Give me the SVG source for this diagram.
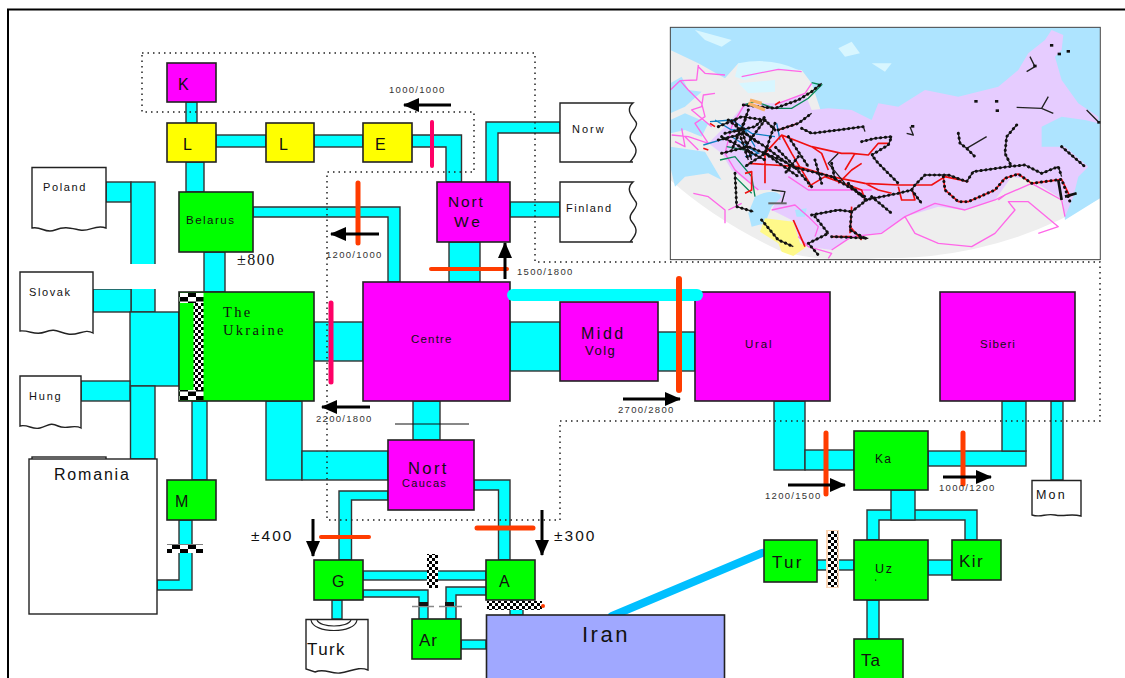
<svg xmlns="http://www.w3.org/2000/svg" width="1125" height="678" viewBox="0 0 1125 678">
<defs>
<style>
text{font-family:"Liberation Sans",Arial,sans-serif;fill:#111}
.n{stroke:#222;stroke-width:1.6}
.mg{fill:#ff00ff}.gr{fill:#00ff00}.ye{fill:#ffff00}.wh{fill:#fff}
.p{fill:#00ffff;stroke:#333;stroke-width:1.4}
.r{stroke:#ff3c00;stroke-linecap:round;fill:none}
.k{stroke:#ff0066;stroke-linecap:round;fill:none}
.a{stroke:#000;stroke-width:3;fill:none;marker-end:url(#ah)}
.v{font-size:9.5px;letter-spacing:1.300px;fill:#333}
.dot{fill:none;stroke:#222;stroke-width:1.5;stroke-dasharray:1.5 4}
.doc{fill:#fff;stroke:#222;stroke-width:1.4}
.se{font-family:"Liberation Serif","Times New Roman",serif}
.mb{fill:none;stroke:#ff66e8;stroke-width:4;stroke-linejoin:round}
.ml{fill:none;stroke:#222;stroke-width:4;stroke-linejoin:round}
.md{fill:none;stroke:#111;stroke-width:9;stroke-linecap:round;stroke-dasharray:.5 14}
.mr{fill:none;stroke:#f01010;stroke-width:5;stroke-linejoin:round}
.mt{fill:none;stroke:#0a8a5a;stroke-width:4}
.mu{fill:none;stroke:#1080c0;stroke-width:4}
</style>
<marker id="ah" markerUnits="userSpaceOnUse" markerWidth="16" markerHeight="14" refX="15" refY="7" orient="auto"><path d="M0 0L16 7L0 14Z" fill="#000"/></marker>
<pattern id="c" width="6" height="6" patternUnits="userSpaceOnUse"><rect width="6" height="6" fill="#fff"/><rect width="3" height="3" fill="#000"/><rect x="3" y="3" width="3" height="3" fill="#000"/></pattern>
<pattern id="cb" width="16" height="9" patternUnits="userSpaceOnUse"><rect width="16" height="9" fill="#fff"/><rect x="4" width="8" height="4.500" fill="#000"/><rect x="12" y="4.500" width="8" height="4.500" fill="#000"/><rect x="-4" y="4.500" width="8" height="4.500" fill="#000"/></pattern>
</defs>
<rect width="1125" height="678" fill="#fff"/>
<path d="M8 678V9.500H1125" fill="none" stroke="#000" stroke-width="2"/>

<g id="map">
<rect x="670.500" y="27.500" width="430" height="232" fill="#fff"/>
<g transform="translate(665 20) scale(.3333)">
<path d="M16 480Q150 600 340 690Q460 730 640 715Q1000 720 1305 535V22H16Z" fill="#eee"/>
<path d="M16 22H1305V535L1200 600L1190 480L1000 440L600 400L470 280L440 190L410 150L310 145L220 130L180 175L100 130L16 90Z" fill="#aee4ff"/>
<path d="M220 130Q320 110 400 150L320 150L240 180L210 170ZM520 85L560 65L585 100L540 110ZM620 130L680 130L660 155ZM90 30L200 60L170 80L120 60ZM220 190L330 180L330 215L250 220Z" fill="#d8f6ff"/>
<path d="M16 190L50 170L70 210L110 215L60 260L16 280ZM16 300L60 280L130 310L110 350L60 330L16 340ZM16 380L120 395L170 480L130 460L60 470L30 500L16 440Z" fill="#aee4ff"/>
<path d="M440 270L490 265L560 270L620 300L640 250L700 260L780 210L880 230L1000 200L1060 150L1090 100L1140 60L1160 30L1195 45L1190 90L1170 110L1190 180L1240 250L1300 290L1300 310L1260 300L1190 290L1130 320L1130 380L1200 380L1270 440L1240 470L1225 530L1200 590L1195 540L1100 480L1040 470L990 540L900 570L820 560L720 590L650 640L560 650L500 690L430 680L400 650L380 600L320 570L350 510L280 510L200 450L170 400L130 370L190 310L240 250L340 250L420 220Z" fill="#e6ccff"/>
<path d="M270 530Q330 500 350 530L320 560L300 610L260 620L250 580Z" fill="#aee4ff"/>
<path d="M390 570L425 565L420 590L395 590Z" fill="#aee4ff"/>
<path d="M300 595L385 605L405 670L425 680L385 708L350 695L340 670L285 635Z" fill="#fff98a"/>
<path class="mb" d="M100 135L95 180L45 182L70 210L110 250L120 290L90 310L130 370L70 350L20 345M100 140L120 160L180 165M150 220L115 225L110 260L80 270L140 320M410 155L340 148L230 170M340 250L420 220L440 190M45 182L16 210M50 325L60 380L30 365M60 350L100 390"/>
<path class="mb" d="M85 520L130 530L180 570L180 610M190 570L230 550M320 570L390 555L430 590L460 620L450 650M400 650L430 680L500 700L490 715M500 690L560 650L650 640L720 590L750 640L820 670L920 680L990 640L1050 570L1030 545L1090 545L1180 620L1120 640M720 590L810 550L900 570L990 540L1020 525L1100 490L1190 540L1200 590"/>
<path class="mb" d="M370 470L430 510L560 510L620 510M1000 540L1020 525M240 250L200 320L180 400L210 450L280 510"/>
<path class="mt" d="M235 255L270 245L330 265L380 265L430 235L470 195L440 188M165 420L210 410L260 470L270 530M210 470L260 520M185 380L240 390"/>
<path class="mu" d="M135 305L200 300L260 340L330 350M115 375L200 350L280 400L240 410M335 310L345 360M150 300L200 330L240 330L270 380"/>
<path class="mr" d="M135 310L150 320M115 385L130 390M330 255L345 245M300 400L350 345L440 380L530 400L560 400L610 405L640 370L670 370M300 400L300 490M240 460L260 455L260 510L240 520M250 430L400 440L500 470L600 490L700 495L800 495L840 470L910 485M540 450L570 400M590 430L560 450L520 490M430 500L480 470L590 510L600 540M700 500L710 540L750 540L740 505M835 470L840 510L880 545L910 545L990 510L1020 475L1060 462L1100 490L1190 478L1215 530M555 640L560 560M555 620L590 660M500 650L560 650M385 600L420 680M350 345L380 400L440 500M600 490L640 510L680 520M340 330L400 310M440 380L470 400L490 450"/>
<path class="ml" d="M235 255L330 265L400 240L440 215L470 190M340 330L400 310L440 280M160 320L230 290L300 300L330 330M160 360L240 340L300 380L380 440L500 470L600 530M170 400L250 380L300 400L370 430M210 460L215 560L265 575M320 510L360 515L350 550M440 500L380 430L330 380M210 300L250 420M180 340L270 320L300 290M410 325L440 340L520 330L595 320L600 335M590 365L630 355L680 350L670 375L620 405L640 430L700 490M600 540L700 520L740 510L750 495L780 465L850 465L905 485L925 455L960 450L1030 440L1080 435L1130 460L1180 440L1190 470M605 540L560 575L555 630L600 655M560 500L605 540M440 585L520 570L560 575M450 590L490 640L430 670L460 705M500 650L610 655M290 600L340 660L385 680M880 340L885 370L905 385L930 410M905 385L965 350M1055 315L1025 350L1020 400L1040 440M1055 262L1130 265L1165 280M1130 265L1150 230M1190 380L1260 440M1095 110L1110 140L1085 155M1265 270L1300 305M725 340L745 345L735 320M520 400L490 430L540 490M300 400L400 470M330 310L300 400L240 440M250 270L230 330L260 420M170 350L300 420M190 300L280 370M240 300L200 390M300 300L240 380M370 350L430 440M400 410L360 460M450 420L470 490M500 430L510 480M550 490L590 530M740 510L770 550M620 530L680 580"/>
<path class="md" d="M235 255L330 265L400 240L440 215L470 190M340 330L400 310L440 280M160 320L230 290L300 300L330 330M160 360L240 340L300 380L380 440L500 470L600 530M170 400L250 380L300 400L370 430M210 460L215 560L265 575M440 500L380 430L330 380M210 300L250 420M180 340L270 320L300 290M410 325L440 340L520 330L595 320M590 365L630 355L680 350L670 375L620 405L640 430L700 490M600 540L700 520L740 510L750 495L780 465L850 465L905 485L925 455L960 450L1030 440L1080 435L1130 460L1180 440L1190 470M605 540L560 575L555 630L600 655M560 500L605 540M440 585L520 570L560 575M450 590L490 640L430 670L460 705M500 650L610 655M290 600L340 660L385 680M880 340L885 370L905 385L930 410M1055 315L1025 350L1020 400L1040 440M1190 380L1260 440M835 470L840 510L880 545L910 545L990 510L1020 475L1060 462L1100 490L1190 478L1215 545M300 400L400 470M330 310L300 400L240 440M250 270L230 330L260 420M170 350L300 420M190 300L280 370M240 300L200 390M300 300L240 380M370 350L430 440M400 410L360 460M450 420L470 490M500 430L510 480M550 490L590 530M740 510L770 550M620 530L680 580"/>
<path d="M310 550H365" stroke="#666" stroke-width="6"/>
<path d="M1180 480L1190 540M1200 530L1235 520" stroke="#111" stroke-width="8" fill="none"/>
<path d="M250 250L300 270M255 240L290 250" stroke="#f7b267" stroke-width="10" fill="none"/>
<g fill="#111"><rect x="1155" y="72" width="10" height="8"/><rect x="1178" y="98" width="10" height="8"/><rect x="1205" y="90" width="10" height="8"/><rect x="1105" y="134" width="10" height="8"/><rect x="928" y="240" width="10" height="8"/><rect x="990" y="240" width="10" height="8"/><rect x="992" y="268" width="10" height="8"/><rect x="1297" y="303" width="10" height="8"/><rect x="738" y="315" width="10" height="8"/></g>
<rect x="16" y="22" width="1290" height="697" fill="none" stroke="#444" stroke-width="3"/>
</g>
</g>

<g id="connectors">
<rect class="p" x="186" y="102" width="11" height="21"/>
<rect class="p" x="216" y="135" width="50" height="12"/>
<rect class="p" x="314" y="135" width="49" height="12"/>
<rect class="p" x="186" y="162" width="18" height="30"/>
<path class="p" d="M412 135H461.500V182H446V147H412Z"/>
<path class="p" d="M498 182V133H560V122H486V182Z"/>
<rect class="p" x="510" y="202" width="50" height="15"/>
<rect class="p" x="449" y="242" width="31" height="40"/>
<path class="p" d="M253 207H400V282H388V217H253Z"/>
<rect class="p" x="106" y="182" width="25" height="20"/>
<rect class="p" x="131" y="182" width="24" height="130"/>
<rect class="p" x="93" y="289" width="38" height="23"/>
<rect x="90" y="264" width="95" height="25" fill="#fff"/>
<rect class="p" x="204" y="252" width="21" height="40"/>
<rect class="p" x="130" y="312" width="49" height="74"/>
<rect class="p" x="81" y="381" width="49" height="20"/>
<rect class="p" x="130.500" y="386" width="24.500" height="73"/>
<rect class="p" x="192" y="401" width="15" height="79"/>
<path class="p" d="M179 520H192V590H157V580H179Z"/>
<rect class="p" x="266" y="401" width="36" height="79"/>
<rect class="p" x="302" y="451" width="86" height="29"/>
<rect class="p" x="314" y="322" width="49" height="39"/>
<rect class="p" x="510" y="322" width="50" height="49"/>
<rect class="p" x="658" y="332" width="37" height="39"/>
<rect class="p" x="413" y="401" width="27" height="39"/>
<path class="p" d="M388 491H339V560H351.500V500H388Z"/>
<path class="p" d="M474 480H510V560H498.500V490H474Z"/>
<rect class="p" x="363" y="571" width="123" height="9"/>
<path class="p" d="M363 590H428V619H419V597H363Z"/>
<path class="p" d="M486 587H446V619H456V595H486Z"/>
<rect class="p" x="461" y="640" width="25" height="9"/>
<rect class="p" x="510" y="600" width="13" height="15"/>
<rect class="p" x="332" y="600" width="10" height="19"/>
<rect class="p" x="774" y="401" width="31" height="69"/>
<rect class="p" x="805" y="450" width="49" height="20"/>
<rect class="p" x="928" y="451" width="98" height="15"/>
<rect class="p" x="1002" y="401" width="24" height="50"/>
<rect class="p" x="1051" y="401" width="12" height="79"/>
<path class="p" d="M867 540V510H977V540H965V520H879V540Z"/>
<rect class="p" x="891" y="490" width="24" height="30"/>
<rect class="p" x="817" y="560" width="37" height="10"/>
<rect class="p" x="928" y="560" width="24" height="15"/>
<rect class="p" x="867" y="600" width="12" height="39"/>
<line x1="612" y1="616" x2="762" y2="553" stroke="#00bfff" stroke-width="8" stroke-linecap="round"/>
</g>

<g id="romania"><rect class="doc" x="32" y="457" width="74" height="6"/><rect class="doc" x="29" y="459" width="128" height="155"/><text x="54" y="480" font-size="16" letter-spacing="1.800">Romania</text></g>
<g id="poland"><path class="doc" d="M32 228V167.500H106V228C95 224 90 232 80 230S65 226 55 230S42 226 32 228Z"/><text x="43" y="191" font-size="11" letter-spacing="1.600" fill="#333">Poland</text></g>
<g id="slovak"><path class="doc" d="M20 331V272H93V333C85 328 78 336 68 334S55 328 45 332S30 330 20 331Z"/><text x="29" y="296" font-size="11" letter-spacing="1.600" fill="#333">Slovak</text></g>
<g id="hung"><path class="doc" d="M20 426V376H81V428C74 424 66 430 58 426S48 426 40 428S28 424 20 426Z"/><text x="29" y="400" font-size="11" letter-spacing="1.800" fill="#333">Hung</text></g>
<g id="norw"><path class="doc" d="M633 162H560V103H633C625 110 632 116 636 122S625 134 632 142S636 155 630 162"/><text x="572" y="133" font-size="11" letter-spacing="2" fill="#333">Norw</text></g>
<g id="finland"><path class="doc" d="M633 242H560V182H633C625 189 632 196 636 202S625 214 632 222S636 235 630 242"/><text x="566" y="212" font-size="11" letter-spacing="1.500" fill="#333">Finland</text></g>
<g id="turk"><path class="doc" d="M306 669V619.500H368V670C358 666 350 672 340 673S325 668 315 672Z"/><path d="M311 620C313 634 355 634 357 620M317 620C320 628 348 628 351 620" fill="none" stroke="#222" stroke-width="1.200"/><text x="307" y="655" font-size="17" letter-spacing="1.400">Turk</text></g>
<g id="mon"><path class="doc" d="M1032 515V480.500H1081V516C1070 513 1065 517 1055 515S1042 518 1032 515Z"/><text x="1036" y="499" font-size="12.500" letter-spacing="2.200" fill="#333">Mon</text></g>

<g id="k"><rect class="n mg" x="167" y="63" width="49" height="39"/><text x="178" y="90" font-size="16">K</text></g>
<g id="l1"><rect class="n ye" x="167" y="123" width="49" height="39"/><text x="183" y="150" font-size="16">L</text></g>
<g id="l2"><rect class="n ye" x="266" y="123" width="48" height="39"/><text x="279" y="150" font-size="16">L</text></g>
<g id="e"><rect class="n ye" x="363" y="123" width="49" height="39"/><text x="375" y="150" font-size="16">E</text></g>
<g id="belarus"><rect class="n gr" x="179" y="192" width="74" height="60"/><text x="186" y="224" font-size="11.500" letter-spacing="1.500">Belarus</text></g>
<g id="nortwe"><rect class="n mg" x="437" y="182" width="73" height="60"/><text x="448" y="207" font-size="15.500" letter-spacing="1.800">Nort</text><text x="454" y="227" font-size="15.500" letter-spacing="3">We</text></g>
<g id="ukraine"><rect class="n gr" x="179" y="292" width="135" height="109"/><rect x="179.500" y="293" width="24" height="10" fill="url(#cb)"/><rect x="179.500" y="390" width="24" height="10" fill="url(#cb)"/><rect x="193.500" y="303" width="10" height="87" fill="url(#c)"/><text class="se" x="223" y="317" font-size="14.500" letter-spacing="2.300">The</text><text class="se" x="223" y="335" font-size="14.500" letter-spacing="2.300">Ukraine</text></g>
<g id="m"><rect class="n gr" x="167" y="480" width="49" height="40"/><text x="175" y="507" font-size="16">M</text></g>
<g id="centre"><rect class="n mg" x="363" y="282" width="147" height="119"/><text x="411" y="343" font-size="11.500" letter-spacing="1.200">Centre</text></g>
<g id="middvolg"><rect class="n mg" x="560" y="302" width="98" height="79"/><text x="581" y="339" font-size="16" letter-spacing="2.500">Midd</text><text x="585" y="355" font-size="13" letter-spacing="1.500">Volg</text></g>
<g id="ural"><rect class="n mg" x="695" y="292" width="135" height="109"/><text x="745" y="348" font-size="11.500" letter-spacing="1.800">Ural</text></g>
<g id="siberi"><rect class="n mg" x="940" y="292" width="135" height="109"/><text x="980" y="348" font-size="11.500" letter-spacing="1.100">Siberi</text></g>
<g id="ka"><rect class="n gr" x="854" y="431" width="74" height="59"/><text x="875" y="463" font-size="12" letter-spacing="1.200">Ka</text></g>
<g id="nortcaucas"><rect class="n mg" x="388" y="440" width="86" height="70"/><text x="408" y="474" font-size="16.500" letter-spacing="2.400">Nort</text><text x="402" y="487" font-size="11" letter-spacing="1.300">Caucas</text></g>
<g id="g"><rect class="n gr" x="314" y="560" width="49" height="40"/><text x="332" y="587" font-size="16">G</text></g>
<g id="a"><rect class="n gr" x="486" y="560" width="49" height="40"/><text x="499" y="587" font-size="16">A</text></g>
<g id="ar"><rect class="n gr" x="412" y="619" width="49" height="40"/><text x="419" y="646" font-size="17" letter-spacing="1">Ar</text></g>
<g id="iran"><rect class="n" x="486.500" y="615" width="238" height="70" fill="#a0a8ff"/><text x="582" y="642" font-size="22" letter-spacing="2.500" fill="#222">Iran</text></g>
<g id="tur"><rect class="n gr" x="764" y="540" width="53" height="42"/><text x="772" y="568" font-size="17" letter-spacing="2.300">Tur</text></g>
<g id="uz"><rect class="n gr" x="854" y="540" width="74" height="60"/><text x="875" y="573" font-size="12.500" letter-spacing="1.600">Uz</text><rect x="875" y="579.500" width="1.200" height="1.200" fill="#111"/></g>
<g id="kir"><rect class="n gr" x="952" y="540" width="49" height="40"/><text x="959" y="567" font-size="17" letter-spacing="1.500">Kir</text></g>
<g id="ta"><rect class="n gr" x="854" y="639" width="49" height="45"/><text x="861" y="666" font-size="17" letter-spacing="1">Ta</text></g>

<g id="dotted"><path class="dot" d="M142 53H535V262H1100V421H560V520H327V172H474V112H142Z"/></g>

<g id="breakers">
<line x1="513" y1="295" x2="697" y2="295" stroke="#00ffff" stroke-width="12" stroke-linecap="round"/>
<line class="k" x1="432" y1="122" x2="432" y2="166" stroke-width="4"/>
<line class="r" x1="358" y1="183" x2="358" y2="243" stroke-width="5"/>
<line class="r" x1="431" y1="269" x2="507" y2="269" stroke-width="4"/>
<line class="k" x1="331" y1="303" x2="331" y2="382" stroke-width="5"/>
<line class="r" x1="679" y1="279" x2="679" y2="390" stroke-width="6"/>
<line class="r" x1="321" y1="537" x2="369" y2="537" stroke-width="4"/>
<line class="r" x1="477" y1="528" x2="533" y2="528" stroke-width="5"/>
<line class="r" x1="826" y1="433" x2="826" y2="494" stroke-width="5"/>
<line class="r" x1="963" y1="433" x2="963" y2="484" stroke-width="5"/>
<line x1="395" y1="424" x2="469" y2="424" stroke="#111" stroke-width="1"/>
<rect x="167" y="544" width="36" height="9" fill="url(#cb)"/>
<rect x="427" y="554" width="11" height="34" fill="url(#c)"/>
<rect x="826" y="530" width="13" height="58" fill="#fbd5b5"/><rect x="828" y="531" width="9.500" height="56" fill="url(#c)"/>
<rect x="487" y="601" width="55" height="9" fill="url(#c)"/><circle cx="543" cy="606" r="2" fill="#ff3c00"/>
<path d="M412 606.500H434M439 606.500H462" stroke="#888" stroke-width="1.500"/>
<rect x="419" y="602" width="9" height="4" fill="#111"/><rect x="445" y="602" width="9" height="4" fill="#111"/>
</g>

<g id="arrows">
<line class="a" x1="451" y1="105" x2="404" y2="105"/>
<line class="a" x1="379" y1="234" x2="331" y2="234"/>
<line class="a" x1="505" y1="279" x2="505" y2="243"/>
<line class="a" x1="370" y1="407" x2="322" y2="407"/>
<line class="a" x1="623" y1="399" x2="680" y2="399"/>
<line class="a" x1="788" y1="485" x2="845" y2="485"/>
<line class="a" x1="943" y1="477" x2="991" y2="477"/>
<line class="a" x1="313" y1="519" x2="313" y2="556"/>
<line class="a" x1="542" y1="510" x2="542" y2="555"/>
</g>

<g id="labels">
<text class="v" x="389" y="93">1000/1000</text>
<text class="v" x="326" y="258">1200/1000</text>
<text class="v" x="517" y="275">1500/1800</text>
<text class="v" x="316" y="422">2200/1800</text>
<text class="v" x="618" y="413">2700/2800</text>
<text class="v" x="765" y="499">1200/1500</text>
<text class="v" x="939" y="491">1000/1200</text>
<text class="se" x="237" y="265" font-size="16" letter-spacing="1.500" fill="#333">±800</text>
<text x="251" y="541" font-size="15.500" letter-spacing="2" fill="#333">±400</text>
<text x="554" y="541" font-size="15.500" letter-spacing="2" fill="#333">±300</text>
</g>
</svg>
